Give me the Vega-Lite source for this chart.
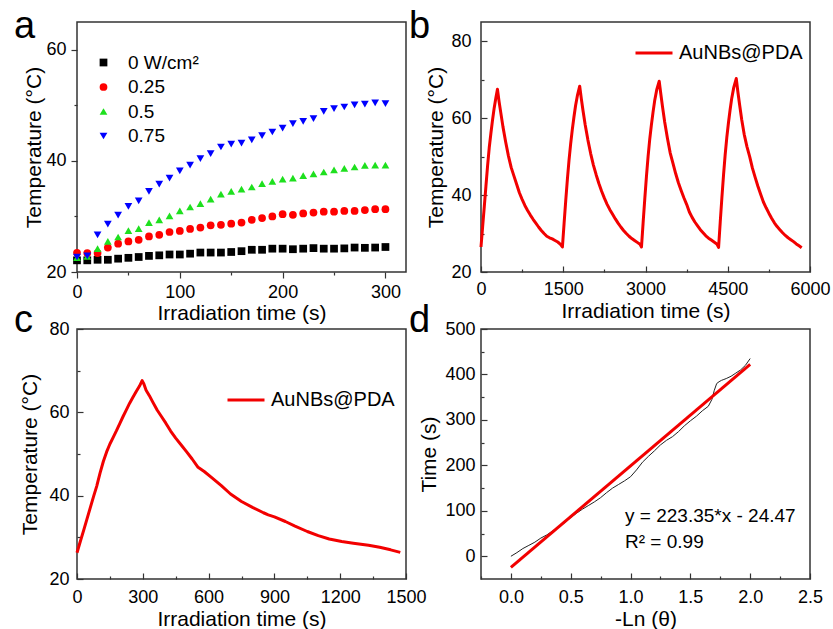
{
  "$schema": "https://vega.github.io/schema/vega-lite/v6.json",
  "background": "white",
  "padding": {"left": 13, "top": 7, "right": 5, "bottom": 3},
  "columns": 2,
  "spacing": {"row": 57, "column": 75},
  "bounds": "flush",
  "resolve": {"scale": {"color": "independent", "shape": "independent"}, "legend": {"color": "independent", "shape": "independent"}},
  "config": {
    "font": "Liberation Sans",
    "view": {"stroke": "#333", "strokeWidth": 1.5},
    "axis": {"domain": false, "grid": false, "labelFontSize": 18, "titleFontSize": 21, "labelColor": "#000", "titleColor": "#000", "titleFontWeight": "normal", "tickColor": "#333", "tickWidth": 1.2, "labelFont": "Liberation Sans", "titleFont": "Liberation Sans", "labelFlush": false, "labelOverlap": false},
    "title": {"fontSize": 38, "fontWeight": "normal", "anchor": "start", "frame": "group", "color": "#000", "font": "Liberation Sans", "baseline": "alphabetic"},
    "legend": {"labelFont": "Liberation Sans", "labelColor": "#000", "padding": 0}
  },
  "concat": [
    {
      "width": 329, "height": 250,
      "title": {"text": "a", "dx": -63, "offset": -24},
      "data": {"values": [
        {"t":0,"T":22.1,"P":"0 W/cm²"},{"t":10,"T":22.1,"P":"0 W/cm²"},{"t":20,"T":22.2,"P":"0 W/cm²"},{"t":30,"T":22.2,"P":"0 W/cm²"},{"t":40,"T":22.4,"P":"0 W/cm²"},{"t":50,"T":22.55,"P":"0 W/cm²"},{"t":60,"T":22.7,"P":"0 W/cm²"},{"t":70,"T":22.9,"P":"0 W/cm²"},{"t":80,"T":23.0,"P":"0 W/cm²"},{"t":90,"T":23.15,"P":"0 W/cm²"},{"t":100,"T":23.15,"P":"0 W/cm²"},{"t":110,"T":23.3,"P":"0 W/cm²"},{"t":120,"T":23.5,"P":"0 W/cm²"},{"t":130,"T":23.5,"P":"0 W/cm²"},{"t":140,"T":23.5,"P":"0 W/cm²"},{"t":150,"T":23.6,"P":"0 W/cm²"},{"t":160,"T":23.75,"P":"0 W/cm²"},{"t":170,"T":24.0,"P":"0 W/cm²"},{"t":180,"T":24.0,"P":"0 W/cm²"},{"t":190,"T":24.2,"P":"0 W/cm²"},{"t":200,"T":24.2,"P":"0 W/cm²"},{"t":210,"T":24.1,"P":"0 W/cm²"},{"t":220,"T":24.2,"P":"0 W/cm²"},{"t":230,"T":24.3,"P":"0 W/cm²"},{"t":240,"T":24.2,"P":"0 W/cm²"},{"t":250,"T":24.2,"P":"0 W/cm²"},{"t":260,"T":24.25,"P":"0 W/cm²"},{"t":270,"T":24.4,"P":"0 W/cm²"},{"t":280,"T":24.35,"P":"0 W/cm²"},{"t":290,"T":24.4,"P":"0 W/cm²"},{"t":300,"T":24.5,"P":"0 W/cm²"},
        {"t":0,"T":23.45,"P":"0.25"},{"t":10,"T":23.4,"P":"0.25"},{"t":20,"T":23.4,"P":"0.25"},{"t":30,"T":24.4,"P":"0.25"},{"t":40,"T":25.1,"P":"0.25"},{"t":50,"T":25.5,"P":"0.25"},{"t":60,"T":25.8,"P":"0.25"},{"t":70,"T":26.4,"P":"0.25"},{"t":80,"T":26.7,"P":"0.25"},{"t":90,"T":27.2,"P":"0.25"},{"t":100,"T":27.4,"P":"0.25"},{"t":110,"T":27.75,"P":"0.25"},{"t":120,"T":28.0,"P":"0.25"},{"t":130,"T":28.4,"P":"0.25"},{"t":140,"T":28.5,"P":"0.25"},{"t":150,"T":28.7,"P":"0.25"},{"t":160,"T":28.9,"P":"0.25"},{"t":170,"T":29.4,"P":"0.25"},{"t":180,"T":29.7,"P":"0.25"},{"t":190,"T":30.0,"P":"0.25"},{"t":200,"T":30.4,"P":"0.25"},{"t":210,"T":30.3,"P":"0.25"},{"t":220,"T":30.55,"P":"0.25"},{"t":230,"T":30.7,"P":"0.25"},{"t":240,"T":30.85,"P":"0.25"},{"t":250,"T":30.85,"P":"0.25"},{"t":260,"T":31.0,"P":"0.25"},{"t":270,"T":31.0,"P":"0.25"},{"t":280,"T":31.15,"P":"0.25"},{"t":290,"T":31.3,"P":"0.25"},{"t":300,"T":31.3,"P":"0.25"},
        {"t":0,"T":22.6,"P":"0.5"},{"t":10,"T":22.8,"P":"0.5"},{"t":20,"T":24.2,"P":"0.5"},{"t":30,"T":25.5,"P":"0.5"},{"t":40,"T":26.3,"P":"0.5"},{"t":50,"T":27.45,"P":"0.5"},{"t":60,"T":27.8,"P":"0.5"},{"t":70,"T":28.9,"P":"0.5"},{"t":80,"T":29.4,"P":"0.5"},{"t":90,"T":30.1,"P":"0.5"},{"t":100,"T":31.0,"P":"0.5"},{"t":110,"T":31.7,"P":"0.5"},{"t":120,"T":32.3,"P":"0.5"},{"t":130,"T":33.1,"P":"0.5"},{"t":140,"T":34.0,"P":"0.5"},{"t":150,"T":34.5,"P":"0.5"},{"t":160,"T":34.9,"P":"0.5"},{"t":170,"T":35.3,"P":"0.5"},{"t":180,"T":35.9,"P":"0.5"},{"t":190,"T":36.3,"P":"0.5"},{"t":200,"T":36.7,"P":"0.5"},{"t":210,"T":36.9,"P":"0.5"},{"t":220,"T":37.35,"P":"0.5"},{"t":230,"T":37.65,"P":"0.5"},{"t":240,"T":38.0,"P":"0.5"},{"t":250,"T":38.4,"P":"0.5"},{"t":260,"T":38.65,"P":"0.5"},{"t":270,"T":38.9,"P":"0.5"},{"t":280,"T":39.2,"P":"0.5"},{"t":290,"T":39.25,"P":"0.5"},{"t":300,"T":39.25,"P":"0.5"},
        {"t":0,"T":22.7,"P":"0.75"},{"t":10,"T":22.9,"P":"0.75"},{"t":20,"T":26.7,"P":"0.75"},{"t":30,"T":28.6,"P":"0.75"},{"t":40,"T":30.25,"P":"0.75"},{"t":50,"T":31.8,"P":"0.75"},{"t":60,"T":32.8,"P":"0.75"},{"t":70,"T":34.5,"P":"0.75"},{"t":80,"T":35.8,"P":"0.75"},{"t":90,"T":36.9,"P":"0.75"},{"t":100,"T":38.2,"P":"0.75"},{"t":110,"T":39.25,"P":"0.75"},{"t":120,"T":40.4,"P":"0.75"},{"t":130,"T":41.3,"P":"0.75"},{"t":140,"T":42.5,"P":"0.75"},{"t":150,"T":43.0,"P":"0.75"},{"t":160,"T":43.2,"P":"0.75"},{"t":170,"T":43.8,"P":"0.75"},{"t":180,"T":44.55,"P":"0.75"},{"t":190,"T":45.2,"P":"0.75"},{"t":200,"T":45.9,"P":"0.75"},{"t":210,"T":46.7,"P":"0.75"},{"t":220,"T":47.1,"P":"0.75"},{"t":230,"T":47.6,"P":"0.75"},{"t":240,"T":48.9,"P":"0.75"},{"t":250,"T":49.4,"P":"0.75"},{"t":260,"T":49.7,"P":"0.75"},{"t":270,"T":50.1,"P":"0.75"},{"t":280,"T":50.2,"P":"0.75"},{"t":290,"T":50.45,"P":"0.75"},{"t":300,"T":50.3,"P":"0.75"}
      ]},
      "mark": {"type": "point", "filled": true, "size": 60, "opacity": 1},
      "encoding": {
        "x": {"field": "t", "type": "quantitative", "scale": {"domain": [0, 320], "nice": false},
          "axis": {"title": "Irradiation time (s)", "values": [0,50,100,150,200,250,300], "labelExpr": "datum.value % 100 === 0 ? datum.label : ''", "tickSize": {"condition": {"test": "datum.value % 100 !== 0", "value": 3}, "value": 6}, "labelPadding": 5, "titlePadding": 1}},
        "y": {"field": "T", "type": "quantitative", "scale": {"domain": [20, 65], "nice": false, "zero": false},
          "axis": {"title": "Temperature (°C)", "values": [20,30,40,50,60], "labelExpr": "datum.value % 20 === 0 ? datum.label : ''", "tickSize": {"condition": {"test": "datum.value % 20 !== 0", "value": 3}, "value": 6}, "labelPadding": 5, "titlePadding": 1}},
        "color": {"field": "P", "type": "nominal", "sort": null,
          "scale": {"domain": ["0 W/cm²","0.25","0.5","0.75"], "range": ["#000000","#ff0000","#1ee01e","#0000ff"]},
          "legend": {"title": null, "orient": "none", "legendX": 17, "legendY": 31, "labelFontSize": 19, "symbolSize": 60, "labelOffset": 15, "rowPadding": 4.5, "symbolStrokeWidth": 0}},
        "shape": {"field": "P", "type": "nominal", "sort": null,
          "scale": {"domain": ["0 W/cm²","0.25","0.5","0.75"], "range": ["square","circle","triangle-up","triangle-down"]},
          "legend": {"title": null, "orient": "none", "legendX": 17, "legendY": 31, "labelFontSize": 19, "symbolSize": 60, "labelOffset": 15, "rowPadding": 4.5, "symbolStrokeWidth": 0}}
      }
    },
    {
      "width": 329, "height": 250,
      "title": {"text": "b", "dx": -72, "offset": -24},
      "data": {"values": [
        {"t":0,"T":26.5},{"t":30,"T":31.8},{"t":60,"T":37.0},{"t":90,"T":42.3},{"t":120,"T":47.6},{"t":150,"T":52.3},{"t":180,"T":56.0},{"t":210,"T":59.5},{"t":240,"T":62.6},{"t":270,"T":65.2},{"t":300,"T":67.5},{"t":330,"T":64.3},{"t":360,"T":61.5},{"t":400,"T":57.8},{"t":450,"T":53.8},{"t":500,"T":50.2},{"t":550,"T":47.2},{"t":600,"T":45.0},{"t":650,"T":42.8},{"t":700,"T":40.6},{"t":750,"T":38.9},{"t":800,"T":37.3},{"t":850,"T":36.0},{"t":900,"T":34.8},{"t":950,"T":33.7},{"t":1000,"T":32.7},{"t":1050,"T":31.7},{"t":1100,"T":30.8},{"t":1150,"T":30.0},{"t":1200,"T":29.3},{"t":1250,"T":28.9},{"t":1300,"T":28.6},{"t":1350,"T":28.2},{"t":1400,"T":27.8},{"t":1450,"T":27.2},{"t":1485,"T":26.5},
        {"t":1515,"T":32.6},{"t":1545,"T":38.5},{"t":1575,"T":44.0},{"t":1605,"T":49.0},{"t":1635,"T":53.3},{"t":1665,"T":57.0},{"t":1695,"T":60.3},{"t":1725,"T":63.3},{"t":1760,"T":66.0},{"t":1800,"T":68.3},{"t":1830,"T":65.0},{"t":1860,"T":62.0},{"t":1900,"T":58.3},{"t":1950,"T":54.3},{"t":2000,"T":50.8},{"t":2050,"T":47.8},{"t":2100,"T":45.3},{"t":2150,"T":43.0},{"t":2200,"T":41.0},{"t":2250,"T":39.2},{"t":2300,"T":37.6},{"t":2350,"T":36.2},{"t":2400,"T":35.0},{"t":2450,"T":33.8},{"t":2500,"T":32.7},{"t":2550,"T":31.7},{"t":2600,"T":30.8},{"t":2650,"T":30.0},{"t":2700,"T":29.3},{"t":2750,"T":28.7},{"t":2800,"T":28.2},{"t":2850,"T":27.7},{"t":2900,"T":27.2},{"t":2927,"T":26.5},
        {"t":2957,"T":32.9},{"t":2987,"T":39.0},{"t":3017,"T":44.8},{"t":3047,"T":50.0},{"t":3077,"T":54.5},{"t":3107,"T":58.2},{"t":3137,"T":61.5},{"t":3167,"T":64.5},{"t":3205,"T":67.4},{"t":3250,"T":69.6},{"t":3280,"T":66.2},{"t":3310,"T":63.0},{"t":3350,"T":59.0},{"t":3400,"T":54.8},{"t":3450,"T":51.0},{"t":3500,"T":48.3},{"t":3550,"T":45.6},{"t":3600,"T":43.2},{"t":3650,"T":41.2},{"t":3700,"T":39.3},{"t":3750,"T":37.6},{"t":3800,"T":35.6},{"t":3850,"T":34.2},{"t":3900,"T":33.0},{"t":3950,"T":32.0},{"t":4000,"T":31.0},{"t":4050,"T":30.2},{"t":4100,"T":29.4},{"t":4150,"T":28.8},{"t":4200,"T":28.3},{"t":4250,"T":27.8},{"t":4300,"T":27.3},{"t":4333,"T":26.4},
        {"t":4363,"T":33.0},{"t":4393,"T":39.3},{"t":4423,"T":45.2},{"t":4453,"T":50.5},{"t":4483,"T":55.0},{"t":4513,"T":58.8},{"t":4543,"T":62.2},{"t":4573,"T":65.2},{"t":4610,"T":68.0},{"t":4655,"T":70.3},{"t":4685,"T":66.8},{"t":4715,"T":63.6},{"t":4755,"T":59.6},{"t":4800,"T":55.8},{"t":4850,"T":52.6},{"t":4900,"T":50.0},{"t":4950,"T":47.0},{"t":5000,"T":44.6},{"t":5050,"T":42.3},{"t":5100,"T":40.2},{"t":5150,"T":38.2},{"t":5200,"T":36.7},{"t":5250,"T":35.3},{"t":5300,"T":34.0},{"t":5350,"T":32.8},{"t":5400,"T":31.8},{"t":5450,"T":31.0},{"t":5500,"T":30.2},{"t":5550,"T":29.5},{"t":5600,"T":28.9},{"t":5650,"T":28.4},{"t":5700,"T":27.9},{"t":5750,"T":27.3},{"t":5800,"T":26.8},{"t":5848,"T":26.3}
      ]},
      "mark": {"type": "line", "strokeWidth": 3, "strokeJoin": "round"},
      "encoding": {
        "x": {"field": "t", "type": "quantitative", "scale": {"domain": [0, 6000], "nice": false},
          "axis": {"title": "Irradiation time (s)", "values": [0,750,1500,2250,3000,3750,4500,5250,6000], "labelExpr": "datum.value % 1500 === 0 ? datum.label : ''", "format": "d", "tickSize": {"condition": {"test": "datum.value % 1500 !== 0", "value": -3}, "value": -6}, "labelPadding": 14, "titlePadding": -1}},
        "y": {"field": "T", "type": "quantitative", "scale": {"domain": [20, 85], "nice": false, "zero": false},
          "axis": {"title": "Temperature (°C)", "values": [20,30,40,50,60,70,80], "labelExpr": "datum.value % 20 === 0 ? datum.label : ''", "tickSize": {"condition": {"test": "datum.value % 20 !== 0", "value": -3}, "value": -6}, "labelPadding": 16, "titlePadding": 4}},
        "color": {"datum": "AuNBs@PDA", "scale": {"range": ["#f20000"]},
          "legend": {"title": null, "orient": "none", "legendX": 153, "legendY": 11, "labelFontSize": 20, "symbolType": "stroke", "symbolSize": 1369, "symbolStrokeWidth": 3, "labelOffset": 5}}
      }
    },
    {
      "width": 329, "height": 250,
      "title": {"text": "c", "dx": -63, "offset": -20},
      "data": {"values": [
        {"t":0,"T":26.3},{"t":15,"T":29.0},{"t":30,"T":31.6},{"t":45,"T":34.3},{"t":60,"T":37.0},{"t":75,"T":39.7},{"t":90,"T":42.3},{"t":105,"T":45.4},{"t":120,"T":48.2},{"t":135,"T":50.5},{"t":150,"T":52.4},{"t":165,"T":54.0},{"t":180,"T":55.6},{"t":195,"T":57.3},{"t":210,"T":59.0},{"t":225,"T":60.6},{"t":240,"T":62.2},{"t":255,"T":63.6},{"t":270,"T":65.0},{"t":285,"T":66.3},{"t":297,"T":67.6},{"t":305,"T":66.8},{"t":315,"T":65.3},{"t":330,"T":64.0},{"t":345,"T":62.5},{"t":366,"T":60.5},{"t":385,"T":59.0},{"t":405,"T":57.4},{"t":427,"T":55.5},{"t":450,"T":53.8},{"t":476,"T":52.1},{"t":500,"T":50.5},{"t":525,"T":48.8},{"t":552,"T":46.8},{"t":580,"T":45.8},{"t":610,"T":44.5},{"t":658,"T":42.4},{"t":700,"T":40.4},{"t":750,"T":38.6},{"t":800,"T":37.2},{"t":850,"T":35.9},{"t":872,"T":35.4},{"t":900,"T":34.9},{"t":950,"T":33.8},{"t":994,"T":32.7},{"t":1050,"T":31.4},{"t":1100,"T":30.4},{"t":1150,"T":29.6},{"t":1207,"T":29.0},{"t":1260,"T":28.6},{"t":1329,"T":28.1},{"t":1380,"T":27.6},{"t":1430,"T":27.0},{"t":1474,"T":26.4}
      ]},
      "mark": {"type": "line", "strokeWidth": 3, "strokeJoin": "round"},
      "encoding": {
        "x": {"field": "t", "type": "quantitative", "scale": {"domain": [0, 1500], "nice": false},
          "axis": {"title": "Irradiation time (s)", "values": [0,150,300,450,600,750,900,1050,1200,1350,1500], "labelExpr": "datum.value % 300 === 0 ? datum.label : ''", "format": "d", "tickSize": {"condition": {"test": "datum.value % 300 !== 0", "value": -3}, "value": -6}, "labelPadding": 15, "titlePadding": -1}},
        "y": {"field": "T", "type": "quantitative", "scale": {"domain": [20, 80], "nice": false, "zero": false},
          "axis": {"title": "Temperature (°C)", "values": [20,30,40,50,60,70,80], "labelExpr": "datum.value % 20 === 0 ? datum.label : ''", "tickSize": {"condition": {"test": "datum.value % 20 !== 0", "value": -3}, "value": -6}, "labelPadding": 14, "titlePadding": 8}},
        "color": {"datum": "AuNBs@PDA", "scale": {"range": ["#f20000"]},
          "legend": {"title": null, "orient": "none", "legendX": 149, "legendY": 51, "labelFontSize": 20, "symbolType": "stroke", "symbolSize": 1369, "symbolStrokeWidth": 3, "labelOffset": 5}}
      }
    },
    {
      "width": 329, "height": 250,
      "title": {"text": "d", "dx": -72, "offset": -20},
      "encoding": {
        "x": {"field": "x", "type": "quantitative", "scale": {"domain": [-0.25, 2.5], "nice": false, "zero": false},
          "axis": {"title": "-Ln (θ)", "values": [-0.25,0,0.25,0.5,0.75,1,1.25,1.5,1.75,2,2.25,2.5], "labelExpr": "datum.value >= 0 && abs(datum.value*2 - round(datum.value*2)) < 0.01 ? format(datum.value, '.1f') : ''", "tickSize": {"condition": {"test": "abs(datum.value*2 - round(datum.value*2)) > 0.01", "value": -3}, "value": -6}, "labelPadding": 15, "titlePadding": -1}},
        "y": {"field": "y", "type": "quantitative", "scale": {"domain": [-50, 500], "nice": false, "zero": false},
          "axis": {"title": "Time (s)", "values": [0,50,100,150,200,250,300,350,400,450,500], "labelExpr": "datum.value % 100 === 0 ? datum.label : ''", "tickSize": {"condition": {"test": "datum.value % 100 !== 0", "value": -3}, "value": -6}, "labelPadding": 12, "titlePadding": 5}}
      },
      "layer": [
        {
          "data": {"values": [
            {"x":0.0,"y":0},{"x":0.05,"y":8},{"x":0.1,"y":17},{"x":0.15,"y":24},{"x":0.2,"y":31},{"x":0.25,"y":40},{"x":0.3,"y":47},{"x":0.35,"y":56},{"x":0.4,"y":64},{"x":0.45,"y":74},{"x":0.5,"y":85},{"x":0.55,"y":95},{"x":0.6,"y":104},{"x":0.65,"y":112},{"x":0.7,"y":120},{"x":0.75,"y":129},{"x":0.8,"y":140},{"x":0.85,"y":150},{"x":0.9,"y":158},{"x":0.95,"y":166},{"x":1.0,"y":175},{"x":1.05,"y":190},{"x":1.1,"y":207},{"x":1.15,"y":220},{"x":1.2,"y":232},{"x":1.25,"y":245},{"x":1.3,"y":255},{"x":1.35,"y":263},{"x":1.4,"y":274},{"x":1.45,"y":287},{"x":1.5,"y":298},{"x":1.55,"y":308},{"x":1.6,"y":320},{"x":1.65,"y":330},{"x":1.68,"y":345},{"x":1.7,"y":365},{"x":1.72,"y":380},{"x":1.74,"y":384},{"x":1.76,"y":387},{"x":1.78,"y":389},{"x":1.8,"y":391},{"x":1.84,"y":396},{"x":1.88,"y":403},{"x":1.92,"y":410},{"x":1.96,"y":420},{"x":2.0,"y":435}
          ]},
          "mark": {"type": "line", "color": "#222", "strokeWidth": 1}
        },
        {
          "data": {"values": [{"x":0.0,"y":-24.47},{"x":2.0,"y":422.23}]},
          "mark": {"type": "line", "color": "#f20000", "strokeWidth": 3}
        },
        {
          "data": {"values": [{"x":0.954,"y":75.5,"label":"y = 223.35*x - 24.47"},{"x":0.954,"y":18,"label":"R² = 0.99"}]},
          "mark": {"type": "text", "align": "left", "baseline": "alphabetic", "fontSize": 19, "color": "#000", "font": "Liberation Sans"},
          "encoding": {"text": {"field": "label", "type": "nominal"}}
        }
      ]
    }
  ]
}
